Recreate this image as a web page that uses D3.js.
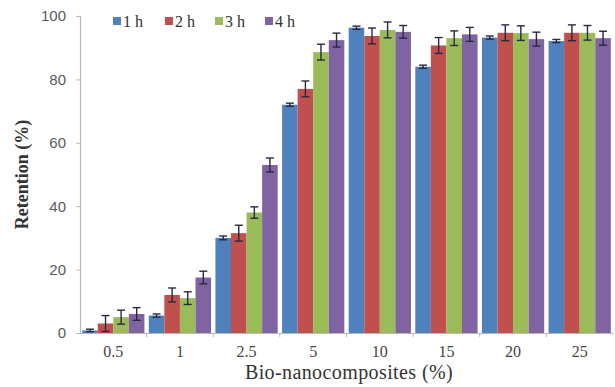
<!DOCTYPE html>
<html>
<head>
<meta charset="utf-8">
<script src="https://cdn.jsdelivr.net/npm/d3@7"></script>
<style>
  body { margin: 0; background: #fff; }
  svg { display: block; }
</style>
</head>
<body>
<svg id="chart" width="615" height="387"></svg>
<script>
// kategorije i serije
var categories = ["0.5", "1", "2.5", "5", "10", "15", "20", "25"];
var seriesNames = ["1 h", "2 h", "3 h", "4 h"];
var seriesColors = ["#4f81bd", "#c0504d", "#9bbb59", "#8064a2"];

var values1h = [0.8, 5.5, 30, 72, 96.3, 84, 93.2, 92.1];
var values2h = [3, 12, 31.5, 77, 93.7, 90.7, 94.7, 94.7];
var values3h = [5, 11, 38, 88.6, 95.6, 93, 94.6, 94.7];
var values4h = [6, 17.5, 53, 92.4, 95, 94.2, 92.7, 93];

var errors1h = [0.4, 0.5, 0.6, 0.5, 0.5, 0.5, 0.5, 0.5];
var errors2h = [2.5, 2.2, 2.5, 2.5, 2.5, 2.5, 2.5, 2.5];
var errors3h = [2.2, 2, 1.8, 2.5, 2.5, 2.3, 2.3, 2.3];
var errors4h = [2, 2, 2.2, 2.2, 2, 2.2, 2.2, 2.2];

var yTicks = [0, 20, 40, 60, 80, 100];

var allValues = [values1h, values2h, values3h, values4h];
var allErrors = [errors1h, errors2h, errors3h, errors4h];

var svg = d3.select("#chart");
// granice plot oblasti (ne "top" - to je window.top)
var plotLeft = 80, plotRight = 613, plotTop = 16, plotBottom = 333;

var x = d3.scaleBand().domain(categories).range([plotLeft, plotRight]).paddingInner(0).paddingOuter(0);
var xInner = d3.scaleBand().domain(seriesNames).range([0, x.bandwidth()]).paddingOuter(0.14).paddingInner(0);
var y = d3.scaleLinear().domain([0, 100]).range([plotBottom, plotTop]);

var axisColor = "#b9b9b9";
var serif = "'Liberation Serif', 'Times New Roman', serif";

// y osa
var yAxis = svg.append("g")
  .attr("transform", "translate(" + plotLeft + ",0)")
  .call(d3.axisLeft(y).tickValues(yTicks).tickSize(4).tickPadding(10));
yAxis.select(".domain").attr("stroke", axisColor).attr("stroke-width", 1.2);
yAxis.selectAll(".tick line").attr("stroke", axisColor);
yAxis.selectAll("text")
  .attr("font-family", "'Liberation Sans', Arial, sans-serif")
  .attr("font-size", 15)
  .attr("fill", "#5a5a5a");

// x osa
var xAxis = svg.append("g")
  .attr("transform", "translate(0," + plotBottom + ")")
  .call(d3.axisBottom(x).tickSize(0).tickPadding(13));
xAxis.select(".domain").attr("stroke", axisColor).attr("stroke-width", 1.2);
xAxis.selectAll("text")
  .attr("font-family", serif)
  .attr("font-size", 16)
  .attr("fill", "#444");

// crtice izmedju kategorija
svg.append("g").selectAll("line")
  .data(categories.slice(1))
  .enter().append("line")
  .attr("x1", function(d) { return x(d); })
  .attr("x2", function(d) { return x(d); })
  .attr("y1", plotBottom)
  .attr("y2", plotBottom + 4)
  .attr("stroke", axisColor);

// barovi
var groups = svg.append("g").selectAll("g")
  .data(seriesNames)
  .enter().append("g")
  .attr("fill", function(d, i) { return seriesColors[i]; });

groups.each(function(s, si) {
  var g = d3.select(this);
  var rows = categories.map(function(c, ci) {
    return { cat: c, v: allValues[si][ci], e: allErrors[si][ci] };
  });

  g.selectAll("rect")
    .data(rows)
    .enter().append("rect")
    .attr("x", function(d) { return x(d.cat) + xInner(s); })
    .attr("width", xInner.bandwidth())
    .attr("y", function(d) { return y(d.v); })
    .attr("height", function(d) { return y(0) - y(d.v); });

  // error barovi
  var eb = g.selectAll(".err")
    .data(rows)
    .enter().append("g")
    .attr("class", "err")
    .attr("stroke", "#272a40")
    .attr("stroke-width", 1.4);
  var cx = function(d) { return x(d.cat) + xInner(s) + xInner.bandwidth() / 2; };
  eb.append("line")
    .attr("x1", cx).attr("x2", cx)
    .attr("y1", function(d) { return y(d.v - d.e); })
    .attr("y2", function(d) { return y(d.v + d.e); });
  eb.append("line")
    .attr("x1", function(d) { return cx(d) - 4; })
    .attr("x2", function(d) { return cx(d) + 4; })
    .attr("y1", function(d) { return y(d.v + d.e); })
    .attr("y2", function(d) { return y(d.v + d.e); });
  eb.append("line")
    .attr("x1", function(d) { return cx(d) - 4; })
    .attr("x2", function(d) { return cx(d) + 4; })
    .attr("y1", function(d) { return y(d.v - d.e); })
    .attr("y2", function(d) { return y(d.v - d.e); });
});

// legenda
var legendX = [113, 165, 215, 265];
var legend = svg.append("g").selectAll("g")
  .data(seriesNames)
  .enter().append("g")
  .attr("transform", function(d, i) { return "translate(" + legendX[i] + ",21)"; });
legend.append("rect")
  .attr("x", 0).attr("y", -4)
  .attr("width", 8).attr("height", 8)
  .attr("fill", function(d, i) { return seriesColors[i]; });
legend.append("text")
  .attr("x", 10).attr("y", 6)
  .attr("font-family", serif)
  .attr("font-size", 16)
  .attr("fill", "#333")
  .text(function(d) { return d; });

// naslovi osa
svg.append("text")
  .attr("transform", "translate(28," + ((plotTop + plotBottom) / 2) + ") rotate(-90)")
  .attr("text-anchor", "middle")
  .attr("font-family", serif)
  .attr("font-size", 18)
  .attr("font-weight", "bold")
  .attr("fill", "#333")
  .text("Retention (%)");

svg.append("text")
  .attr("x", 349)
  .attr("y", 379)
  .attr("text-anchor", "middle")
  .attr("font-family", serif)
  .attr("font-size", 20)
  .attr("letter-spacing", 0.4)
  .attr("fill", "#333")
  .text("Bio-nanocomposites (%)");
</script>
</body>
</html>
